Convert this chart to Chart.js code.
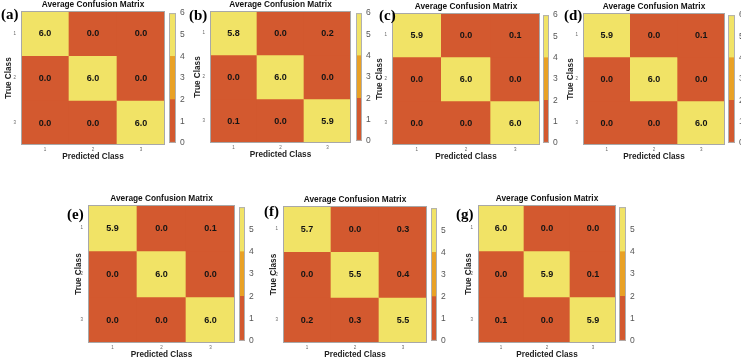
<!DOCTYPE html>
<html><head><meta charset="utf-8">
<script src="https://cdn.jsdelivr.net/npm/chart.js@4.4.1/dist/chart.umd.min.js"></script>
<style>
html,body{margin:0;padding:0;background:#fff;}
#wrap{position:relative;width:741px;height:358px;overflow:hidden;background:#fff;}
#wrap canvas{position:absolute;}
.lbl{position:absolute;font-family:"Liberation Serif","Times New Roman",serif;font-weight:bold;font-size:15px;line-height:15px;color:#000;white-space:nowrap;}
</style></head><body><div id="wrap"></div>
<script>
// ---------- data ----------
const classLabels = ['1', '2', '3'];
const matrixA = [[6.0, 0.0, 0.0], [0.0, 6.0, 0.0], [0.0, 0.0, 6.0]];
const matrixB = [[5.8, 0.0, 0.2], [0.0, 6.0, 0.0], [0.1, 0.0, 5.9]];
const matrixC = [[5.9, 0.0, 0.1], [0.0, 6.0, 0.0], [0.0, 0.0, 6.0]];
const matrixD = [[5.9, 0.0, 0.1], [0.0, 6.0, 0.0], [0.0, 0.0, 6.0]];
const matrixE = [[5.9, 0.0, 0.1], [0.0, 6.0, 0.0], [0.0, 0.0, 6.0]];
const matrixF = [[5.7, 0.0, 0.3], [0.0, 5.5, 0.4], [0.2, 0.3, 5.5]];
const matrixG = [[6.0, 0.0, 0.0], [0.0, 5.9, 0.1], [0.1, 0.0, 5.9]];
const panelLetters = ['(a)', '(b)', '(c)', '(d)', '(e)', '(f)', '(g)'];
const panelTitle = 'Average Confusion Matrix';
const xAxisTitle = 'Predicted Class';
const yAxisTitle = 'True Class';
const bandEdges = [0, 2, 4, 6];
const colorbarTicksTop = [0, 1, 2, 3, 4, 5, 6];
const colorbarTicksBottom = [0, 1, 2, 3, 4, 5];

// ---------- style / layout ----------
const bandColors = ['#D3592F', '#E9A125', '#F1E366'];
const FONT = '"Liberation Sans", Arial, sans-serif';
const panels = [
  {m: matrixA, L: 21,  R: 165, T: 11,  B: 145, cbL: 169, cbR: 176, lx: 1,   ly: 7,   cbTicks: colorbarTicksTop, yt: 5},
  {m: matrixB, L: 210, R: 351, T: 11,  B: 143, cbL: 356, cbR: 362, lx: 189, ly: 8,   cbTicks: colorbarTicksTop, yt: 5},
  {m: matrixC, L: 392, R: 540, T: 13,  B: 145, cbL: 543, cbR: 549, lx: 379, ly: 8,   cbTicks: colorbarTicksTop, yt: 5},
  {m: matrixD, L: 583, R: 725, T: 13,  B: 145, cbL: 728, cbR: 735, lx: 564, ly: 8,   cbTicks: colorbarTicksTop, yt: 5},
  {m: matrixE, L: 88,  R: 235, T: 205, B: 343, cbL: 239, cbR: 245, lx: 67,  ly: 207, cbTicks: colorbarTicksBottom, yt: 8},
  {m: matrixF, L: 283, R: 427, T: 206, B: 343, cbL: 431, cbR: 437, lx: 264, ly: 204, cbTicks: colorbarTicksBottom, yt: 8},
  {m: matrixG, L: 478, R: 616, T: 205, B: 343, cbL: 619, cbR: 626, lx: 456, ly: 207, cbTicks: colorbarTicksBottom, yt: 8}
];

function cellColor(v) {
  for (let i = 0; i < bandColors.length; i++) {
    if (v < bandEdges[i + 1]) return bandColors[i];
  }
  return bandColors[bandColors.length - 1];
}

const wrap = document.getElementById('wrap');
function makeCanvas(left, top, w, h) {
  const c = document.createElement('canvas');
  c.width = w; c.height = h;
  c.style.left = left + 'px'; c.style.top = top + 'px';
  c.style.width = w + 'px'; c.style.height = h + 'px';
  wrap.appendChild(c);
  return c;
}

const outlinePlugin = {
  id: 'outline',
  afterDraw(chart, args, opts) {
    const a = chart.chartArea, ctx = chart.ctx;
    ctx.save();
    ctx.strokeStyle = opts.color || '#a0a0a0';
    ctx.lineWidth = 1;
    ctx.strokeRect(a.left + 0.5, a.top + 0.5, a.right - a.left - 1, a.bottom - a.top - 1);
    ctx.restore();
  }
};

const valueLabelPlugin = {
  id: 'valueLabels',
  afterDatasetsDraw(chart, args, opts) {
    const ctx = chart.ctx;
    ctx.save();
    ctx.font = 'bold 9px ' + FONT;
    ctx.fillStyle = '#141414';
    ctx.textAlign = 'center';
    ctx.textBaseline = 'middle';
    chart.data.datasets.forEach((ds, i) => {
      const meta = chart.getDatasetMeta(i);
      meta.data.forEach((el, j) => {
        ctx.fillText(ds.values[j].toFixed(1), el.x, (el.y + el.base) / 2 + 0.5);
      });
    });
    ctx.restore();
  }
};

panels.forEach((p, idx) => {
  // panel letter
  const d = document.createElement('div');
  d.className = 'lbl';
  d.style.left = p.lx + 'px'; d.style.top = p.ly + 'px';
  d.textContent = panelLetters[idx];

  // ----- matrix chart -----
  const yW = 22, titleH = 12, xH = 18;
  const cv = makeCanvas(p.L - yW, p.T - titleH, (p.R - p.L) + yW, (p.B - p.T) + titleH + xH);
  const datasets = p.m.map((row, r) => ({
    label: 'True ' + classLabels[r],
    values: row,
    data: row.map(() => [r + 0.5, r + 1.5]),
    backgroundColor: row.map(cellColor),
    borderWidth: 0,
    grouped: false,
    barPercentage: 1,
    categoryPercentage: 1
  }));
  new Chart(cv, {
    type: 'bar',
    data: {labels: classLabels, datasets},
    options: {
      responsive: false, animation: false, devicePixelRatio: 1,
      layout: {padding: 0, autoPadding: false},
      plugins: {
        legend: {display: false}, tooltip: {enabled: false},
        title: {display: true, text: panelTitle, fullSize: false, color: '#111',
          font: {family: FONT, size: 8.3, weight: 'bold', lineHeight: '10px'}, padding: {top: 1, bottom: 1}},
        outline: {color: '#a8a8a8'}
      },
      scales: {
        x: {
          type: 'category', offset: true,
          grid: {display: false, drawTicks: false}, border: {display: false},
          ticks: {font: {family: FONT, size: 4.5}, color: '#666', padding: 2, maxRotation: 0},
          title: {display: true, text: xAxisTitle, color: '#222', font: {family: FONT, size: 8.2, weight: 'bold'}, padding: {top: 0, bottom: 1.5}},
          afterFit(s) { s.height = xH; }
        },
        y: {
          type: 'linear', min: 0.5, max: 3.5, reverse: true,
          grid: {display: false, drawTicks: false}, border: {display: false},
          afterBuildTicks(s) { s.ticks = classLabels.map((_, i) => ({value: i + 1})); },
          ticks: {font: {family: FONT, size: 4.5}, color: '#666', padding: 5,
            callback: (v) => classLabels[v - 1]},
          title: {display: true, text: yAxisTitle, color: '#222', font: {family: FONT, size: 8.2, weight: 'bold'}, padding: {top: p.yt, bottom: 0}},
          afterFit(s) { s.width = yW; }
        }
      }
    },
    plugins: [valueLabelPlugin, outlinePlugin]
  });

  // ----- colorbar chart -----
  const cbPad = 7, cbLabW = 16;
  const cc = makeCanvas(p.cbL, p.T - cbPad, (p.cbR - p.cbL) + cbLabW, (p.B - p.T) + 2 * cbPad);
  new Chart(cc, {
    type: 'bar',
    data: {
      labels: ['colorbar'],
      datasets: bandColors.map((c, i) => ({
        data: [[bandEdges[i], bandEdges[i + 1]]],
        backgroundColor: c, borderWidth: 0, grouped: false,
        barPercentage: 1, categoryPercentage: 1
      }))
    },
    options: {
      responsive: false, animation: false, devicePixelRatio: 1,
      layout: {padding: {top: cbPad, bottom: cbPad, left: 0, right: 0}, autoPadding: false},
      plugins: {legend: {display: false}, tooltip: {enabled: false}, outline: {color: '#b0b0b0'}},
      scales: {
        x: {display: false},
        y: {
          type: 'linear', position: 'right', min: bandEdges[0], max: bandEdges[bandEdges.length - 1],
          grid: {display: false, drawTicks: false}, border: {display: false},
          afterBuildTicks(s) { s.ticks = p.cbTicks.map(v => ({value: v})); },
          ticks: {font: {family: FONT, size: 8.5}, color: '#555', padding: 4},
          afterFit(s) { s.width = cbLabW; }
        }
      }
    },
    plugins: [outlinePlugin]
  });
  wrap.appendChild(d);
});
</script>
</body></html>
